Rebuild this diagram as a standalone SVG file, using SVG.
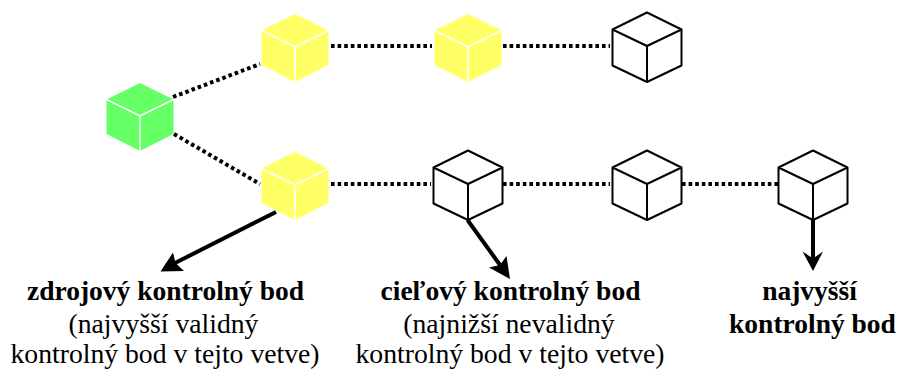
<svg xmlns="http://www.w3.org/2000/svg" width="898" height="369" viewBox="0 0 898 369">
<style>
text{font-family:"Liberation Serif","Times New Roman",serif;font-size:27.500px;fill:#000;text-anchor:middle}
.r{font-size:27.700px}
.b{font-weight:bold}
.dot{fill:none;stroke:#000;stroke-width:4;stroke-dasharray:3.600 3}
.arr{fill:none;stroke:#000;stroke-width:4}
.head{fill:#000;stroke:none}
.edge{fill:none;stroke:#fff;stroke-width:1.500}
.wire{fill:#fff;stroke:#000;stroke-width:2;stroke-linejoin:round}
</style>
<defs>
<g id="solid"><path d="M0 -33L33.500 -16.500V18L0 35L-33.500 18V-16.500Z"/><path class="edge" d="M-33.500 -16.500L0 0L33.500 -16.500M0 0V35"/></g>
<g id="open"><path class="wire" d="M0 -33.500L34.500 -16.500V19.500L0 36L-34.500 19.500V-16.500Z"/><path class="wire" fill="none" d="M-34.500 -16.500L0 0L34.500 -16.500M0 0V36"/></g>
</defs>
<g id="connectors">
<path class="dot" d="M173 97L260 64"/>
<path class="dot" d="M174 134L260 184"/>
<path class="dot" d="M331 46H432"/>
<path class="dot" d="M331 184H431"/>
<path class="dot" d="M503 46H610"/>
<path class="dot" d="M503 184H610"/>
<path class="dot" d="M682 184H778"/>
<path class="arr" d="M276 212L175 263"/>
<path class="head" d="M160.500 271.500L173 252.500L175.500 263L184 271Z"/>
<path class="arr" d="M467.500 220L500 265"/>
<path class="head" d="M510 279L489 267.500L500 265L506.500 256Z"/>
<path class="arr" d="M813 220V259"/>
<path class="head" d="M813 271L802.500 251.500L813 258.500L823 251.500Z"/>
</g>
<g id="node-green" fill="#66ff66"><use href="#solid" x="140" y="116"/></g>
<g id="node-y1" fill="#ffff66"><use href="#solid" x="295" y="47"/></g>
<g id="node-y2" fill="#ffff66"><use href="#solid" x="468" y="47"/></g>
<g id="node-y3" fill="#ffff66"><use href="#solid" x="295" y="185"/></g>
<g id="node-w1"><use href="#open" x="647" y="46"/></g>
<g id="node-w2"><use href="#open" x="468" y="184"/></g>
<g id="node-w3"><use href="#open" x="647" y="184"/></g>
<g id="node-w4"><use href="#open" x="813" y="184"/></g>
<g id="labels">
<text class="b" x="165.500" y="300">zdrojový kontrolný bod</text>
<text class="r" x="163.500" y="333">(najvyšší validný</text>
<text class="r" x="165" y="362.500">kontrolný bod v tejto vetve)</text>
<text class="b" x="510.500" y="300">cieľový kontrolný bod</text>
<text class="r" x="509" y="333">(najnižší nevalidný</text>
<text class="r" x="510" y="362.500">kontrolný bod v tejto vetve)</text>
<text class="b" x="809.500" y="300">najvyšší</text>
<text class="b" x="812.500" y="333">kontrolný bod</text>
</g>
</svg>
